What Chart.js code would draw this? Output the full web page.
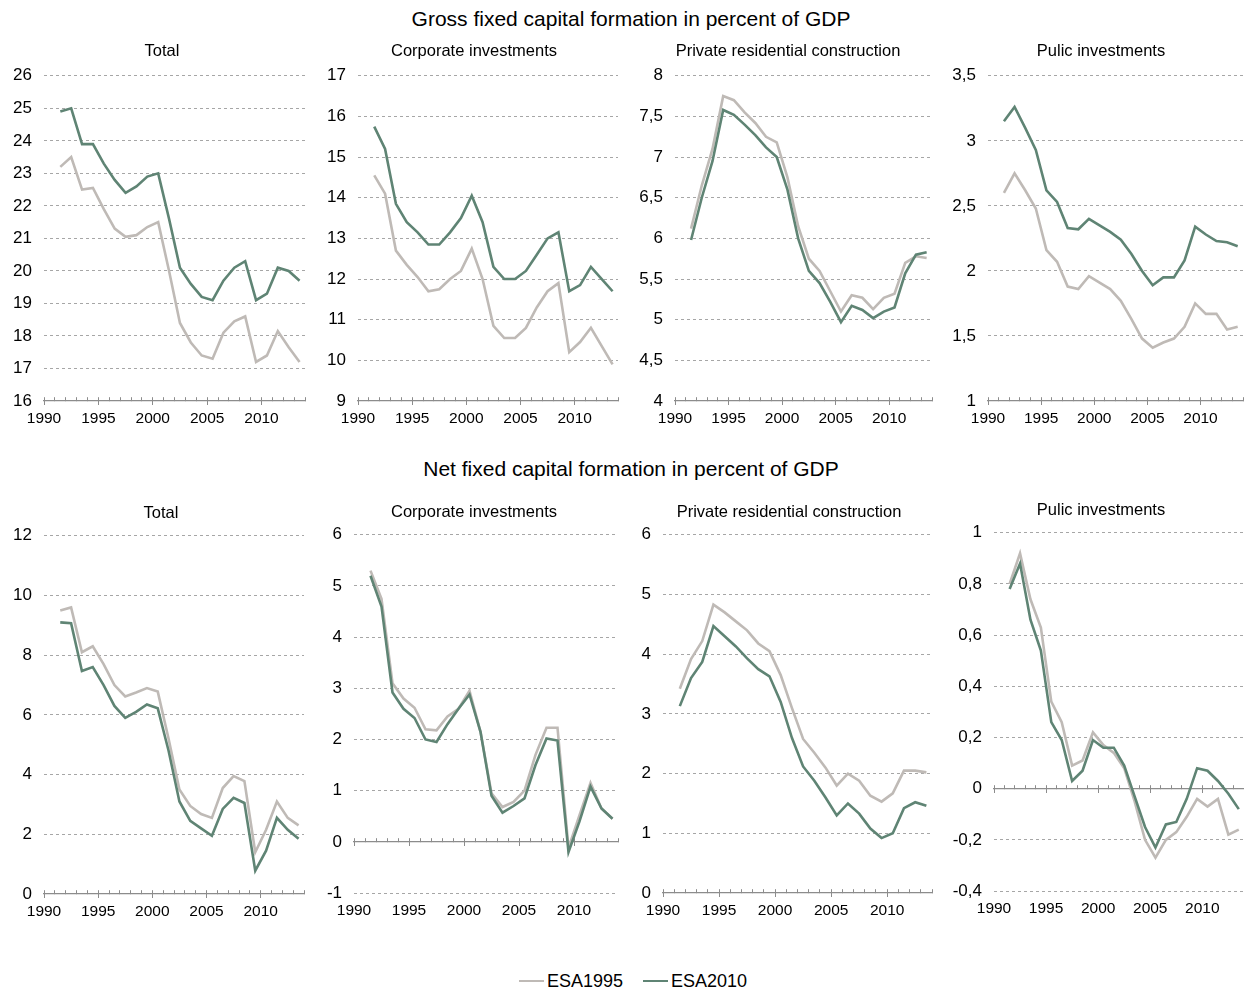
<!DOCTYPE html>
<html>
<head>
<meta charset="utf-8">
<script src="https://cdn.jsdelivr.net/npm/chart.js@4.4.0/dist/chart.umd.min.js"></script>
<style>
  html, body { margin: 0; padding: 0; background: #fff; overflow: hidden; }
  body { width: 1244px; height: 990px; position: relative; font-family: "Liberation Sans", Arial, sans-serif; color: #000; }
  canvas { position: absolute; }
  .head { position: absolute; left: 0; width: 1262px; height: 24px; line-height: 24px; text-align: center; font-size: 21px; }
  #legend { position: absolute; left: 0; width: 1266px; top: 971px; height: 20px; line-height: 20px; font-size: 18px;
            display: flex; justify-content: center; align-items: center; }
  #legend .item { display: flex; align-items: center; margin: 0 10px; }
  #legend .sw { display: inline-block; width: 25px; height: 2.5px; margin-right: 3px; }
</style>
</head>
<body>
<div class="head" style="top:7px">Gross fixed capital formation in percent of GDP</div>
<div class="head" style="top:457px">Net fixed capital formation in percent of GDP</div>
<div id="legend"></div>

<script>
// years 1991-2013, drawn at mid-year on a 1990-2014 axis
const years = [1991, 1992, 1993, 1994, 1995, 1996, 1997, 1998, 1999, 2000, 2001, 2002,
               2003, 2004, 2005, 2006, 2007, 2008, 2009, 2010, 2011, 2012, 2013];
const seriesNames = ["ESA1995", "ESA2010"];
const colors = ["#bfbab6", "#5f8474"];

const panelTitles = ["Total", "Corporate investments", "Private residential construction", "Pulic investments"];

// gross fixed capital formation
const grossTotal1995 = [23.2, 23.5, 22.5, 22.55, 21.9, 21.3, 21.05, 21.1, 21.35, 21.5, 20.0, 18.4, 17.8, 17.4, 17.3, 18.1, 18.45, 18.6, 17.2, 17.4, 18.15, 17.65, 17.2];
const grossTotal2010 = [24.9, 25.0, 23.9, 23.9, 23.3, 22.8, 22.4, 22.6, 22.9, 23.0, 21.6, 20.1, 19.6, 19.2, 19.1, 19.7, 20.1, 20.3, 19.1, 19.3, 20.1, 20.0, 19.7];
const grossCorp1995 = [14.55, 14.1, 12.7, 12.35, 12.05, 11.7, 11.75, 12.0, 12.2, 12.75, 12.0, 10.85, 10.55, 10.55, 10.8, 11.3, 11.7, 11.9, 10.2, 10.45, 10.8, 10.35, 9.9];
const grossCorp2010 = [15.75, 15.2, 13.85, 13.4, 13.15, 12.85, 12.85, 13.15, 13.5, 14.05, 13.4, 12.3, 12.0, 12.0, 12.2, 12.6, 13.0, 13.15, 11.7, 11.85, 12.3, 12.0, 11.7];
const grossRes1995 = [6.12, 6.65, 7.1, 7.75, 7.7, 7.55, 7.42, 7.25, 7.18, 6.75, 6.15, 5.75, 5.6, 5.35, 5.1, 5.3, 5.27, 5.13, 5.27, 5.32, 5.7, 5.78, 5.76];
const grossRes2010 = [5.98, 6.5, 6.95, 7.58, 7.52, 7.4, 7.27, 7.12, 7.0, 6.6, 6.0, 5.6, 5.45, 5.22, 4.97, 5.17, 5.12, 5.02, 5.1, 5.15, 5.57, 5.8, 5.83];
const grossPub1995 = [2.6, 2.75, 2.62, 2.48, 2.16, 2.07, 1.88, 1.86, 1.96, 1.91, 1.86, 1.77, 1.63, 1.48, 1.41, 1.45, 1.48, 1.57, 1.75, 1.67, 1.67, 1.55, 1.57];
const grossPub2010 = [3.15, 3.26, 3.1, 2.93, 2.62, 2.53, 2.33, 2.32, 2.4, 2.35, 2.3, 2.24, 2.13, 2.0, 1.89, 1.95, 1.95, 2.08, 2.34, 2.28, 2.23, 2.22, 2.19];

// net fixed capital formation
const netTotal1995 = [9.5, 9.6, 8.1, 8.3, 7.7, 7.0, 6.62, 6.75, 6.9, 6.78, 5.2, 3.5, 2.95, 2.68, 2.55, 3.55, 3.95, 3.78, 1.4, 2.15, 3.1, 2.55, 2.3];
const netTotal2010 = [9.1, 9.07, 7.47, 7.6, 7.0, 6.3, 5.9, 6.1, 6.35, 6.22, 4.8, 3.1, 2.45, 2.2, 1.95, 2.85, 3.22, 3.05, 0.78, 1.45, 2.55, 2.15, 1.85];
const netCorp1995 = [5.3, 4.75, 3.1, 2.8, 2.62, 2.2, 2.18, 2.45, 2.6, 2.95, 2.15, 0.95, 0.68, 0.78, 1.0, 1.7, 2.23, 2.23, -0.12, 0.52, 1.15, 0.65, 0.45];
const netCorp2010 = [5.2, 4.6, 2.92, 2.6, 2.42, 2.0, 1.95, 2.3, 2.6, 2.88, 2.15, 0.9, 0.57, 0.7, 0.85, 1.5, 2.02, 1.98, -0.2, 0.4, 1.08, 0.65, 0.45];
const netRes1995 = [3.42, 3.92, 4.22, 4.83, 4.7, 4.55, 4.4, 4.18, 4.05, 3.65, 3.1, 2.58, 2.35, 2.1, 1.8, 2.0, 1.88, 1.63, 1.53, 1.67, 2.05, 2.05, 2.02];
const netRes2010 = [3.13, 3.6, 3.87, 4.47, 4.3, 4.13, 3.93, 3.75, 3.63, 3.2, 2.6, 2.12, 1.88, 1.6, 1.3, 1.5, 1.33, 1.08, 0.92, 1.0, 1.42, 1.52, 1.46];
const netPub1995 = [0.8, 0.92, 0.74, 0.63, 0.34, 0.26, 0.09, 0.11, 0.22, 0.17, 0.14, 0.08, -0.05, -0.2, -0.27, -0.2, -0.17, -0.11, -0.04, -0.07, -0.04, -0.18, -0.16];
const netPub2010 = [0.78, 0.88, 0.66, 0.54, 0.26, 0.19, 0.03, 0.07, 0.19, 0.16, 0.16, 0.09, -0.03, -0.15, -0.23, -0.14, -0.13, -0.04, 0.08, 0.07, 0.03, -0.02, -0.08];

// y axis ranges: [min, max, step]
const yRanges = [
  [16, 26, 1], [9, 17, 1], [4, 8, 0.5], [1, 3.5, 0.5],
  [0, 12, 2], [-1, 6, 1], [0, 6, 1], [-0.4, 1, 0.2]
];

const FONT = "'Liberation Sans', Arial, sans-serif";

// where each panel sits on the page
const panels = [
  { s: [grossTotal1995, grossTotal2010], r: yRanges[0], t: 0, plotL: 44,  plotR: 305,  top: 76,  bottom: 400.5, tc: 161.5, gap: 14 },
  { s: [grossCorp1995, grossCorp2010],   r: yRanges[1], t: 1, plotL: 358, plotR: 618,  top: 76,  bottom: 400.5, tc: 473.5, gap: 14 },
  { s: [grossRes1995, grossRes2010],     r: yRanges[2], t: 2, plotL: 675, plotR: 932,  top: 76,  bottom: 400.5, tc: 788,   gap: 14 },
  { s: [grossPub1995, grossPub2010],     r: yRanges[3], t: 3, plotL: 988, plotR: 1243, top: 76,  bottom: 400.5, tc: 1100.5, gap: 14 },
  { s: [netTotal1995, netTotal2010],     r: yRanges[4], t: 0, plotL: 44,  plotR: 304,  top: 535.7, bottom: 894, tc: 161,   gap: 12 },
  { s: [netCorp1995, netCorp2010],       r: yRanges[5], t: 1, plotL: 354, plotR: 618,  top: 535, bottom: 892.7, tc: 473.5, gap: 12 },
  { s: [netRes1995, netRes2010],         r: yRanges[6], t: 2, plotL: 663, plotR: 932,  top: 535, bottom: 892.7, tc: 788.5, gap: 12 },
  { s: [netPub1995, netPub2010],         r: yRanges[7], t: 3, plotL: 994, plotR: 1244, top: 533.3, bottom: 891, tc: 1100.5, gap: 12 }
];

const HALF = 175, X_H = 30, TITLE_SIZE = 16.5, TITLE_PAD_TOP = 6;

function fmt(v) {
  return String(Math.round(v * 100) / 100).replace(".", ",");
}

function makePanel(p) {
  const [ymin, ymax, ystep] = p.r;
  const cross = ymin > 0 ? ymin : 0;
  const titleH = TITLE_PAD_TOP + TITLE_SIZE * 1.2 + p.gap;
  const left = Math.round(p.tc - HALF);
  const width = HALF * 2;
  const top = Math.round(p.top - titleH);
  const height = Math.round(p.bottom) + X_H - top;
  const yW = p.plotL - left;
  const padR = left + width - p.plotR;

  const cv = document.createElement("canvas");
  cv.width = width; cv.height = height;
  cv.style.left = left + "px"; cv.style.top = top + "px";
  cv.style.width = width + "px"; cv.style.height = height + "px";
  document.body.appendChild(cv);

  // ESA2010 first so it is painted on top
  const datasets = [1, 0].map(i => ({
    label: seriesNames[i],
    data: years.map((yr, k) => ({ x: yr + 0.5, y: p.s[i][k] })),
    borderColor: colors[i],
    backgroundColor: colors[i],
    borderWidth: 2.6,
    pointRadius: 0,
    tension: 0,
    fill: false,
    clip: 4
  }));

  new Chart(cv, {
    type: "line",
    data: { datasets },
    options: {
      responsive: false,
      animation: false,
      events: [],
      layout: { padding: 0 },
      plugins: {
        legend: { display: false },
        tooltip: { enabled: false },
        title: {
          display: true,
          text: panelTitles[p.t],
          color: "#000",
          font: { family: FONT, size: TITLE_SIZE, weight: "normal" },
          padding: { top: TITLE_PAD_TOP, bottom: p.gap }
        }
      },
      scales: {
        x: {
          type: "linear", position: "bottom", min: 1990, max: 2014,
          ticks: { stepSize: 5, includeBounds: false, autoSkip: false, maxRotation: 0, padding: 8,
                   color: "#000", font: { family: FONT, size: 15.5 }, callback: v => String(v) },
          grid: { display: false, drawTicks: false },
          border: { display: false },
          afterFit: s => { s.height = X_H; }
        },
        xMinor: {
          type: "linear", position: { y: cross }, min: 1990, max: 2014,
          ticks: { display: false, stepSize: 1 },
          grid: { drawOnChartArea: false, drawTicks: true, tickLength: -4, color: "#8c8c8c", lineWidth: 1 },
          border: { display: true, color: "#8c8c8c", width: 1.2 }
        },
        xMajor: {
          type: "linear", position: { y: cross }, min: 1990, max: 2014,
          ticks: { display: false, stepSize: 5, includeBounds: false },
          grid: { drawOnChartArea: false, drawTicks: true, tickLength: 4, color: "#8c8c8c", lineWidth: 1 },
          border: { display: false }
        },
        y: {
          type: "linear", position: "left", min: ymin, max: ymax,
          ticks: { stepSize: ystep, padding: 12, color: "#000", font: { family: FONT, size: 17 },
                   callback: v => fmt(v) },
          grid: {
            drawTicks: false, lineWidth: 1,
            color: c => (c.tick && Math.abs(c.tick.value - cross) < 1e-9) ? "rgba(0,0,0,0)" : "#a6a6a6"
          },
          border: { display: false, dash: [3, 3] },
          afterFit: s => { s.width = yW; }
        },
        yRight: {
          type: "linear", position: "right", display: true,
          ticks: { display: false }, grid: { display: false }, border: { display: false },
          afterFit: s => { s.width = padR; }
        }
      }
    }
  });
}

panels.forEach(makePanel);

// legend
const legend = document.getElementById("legend");
seriesNames.forEach((name, i) => {
  const item = document.createElement("span");
  item.className = "item";
  const sw = document.createElement("span");
  sw.className = "sw";
  sw.style.background = colors[i];
  item.appendChild(sw);
  item.appendChild(document.createTextNode(name));
  legend.appendChild(item);
});
</script>
</body>
</html>
